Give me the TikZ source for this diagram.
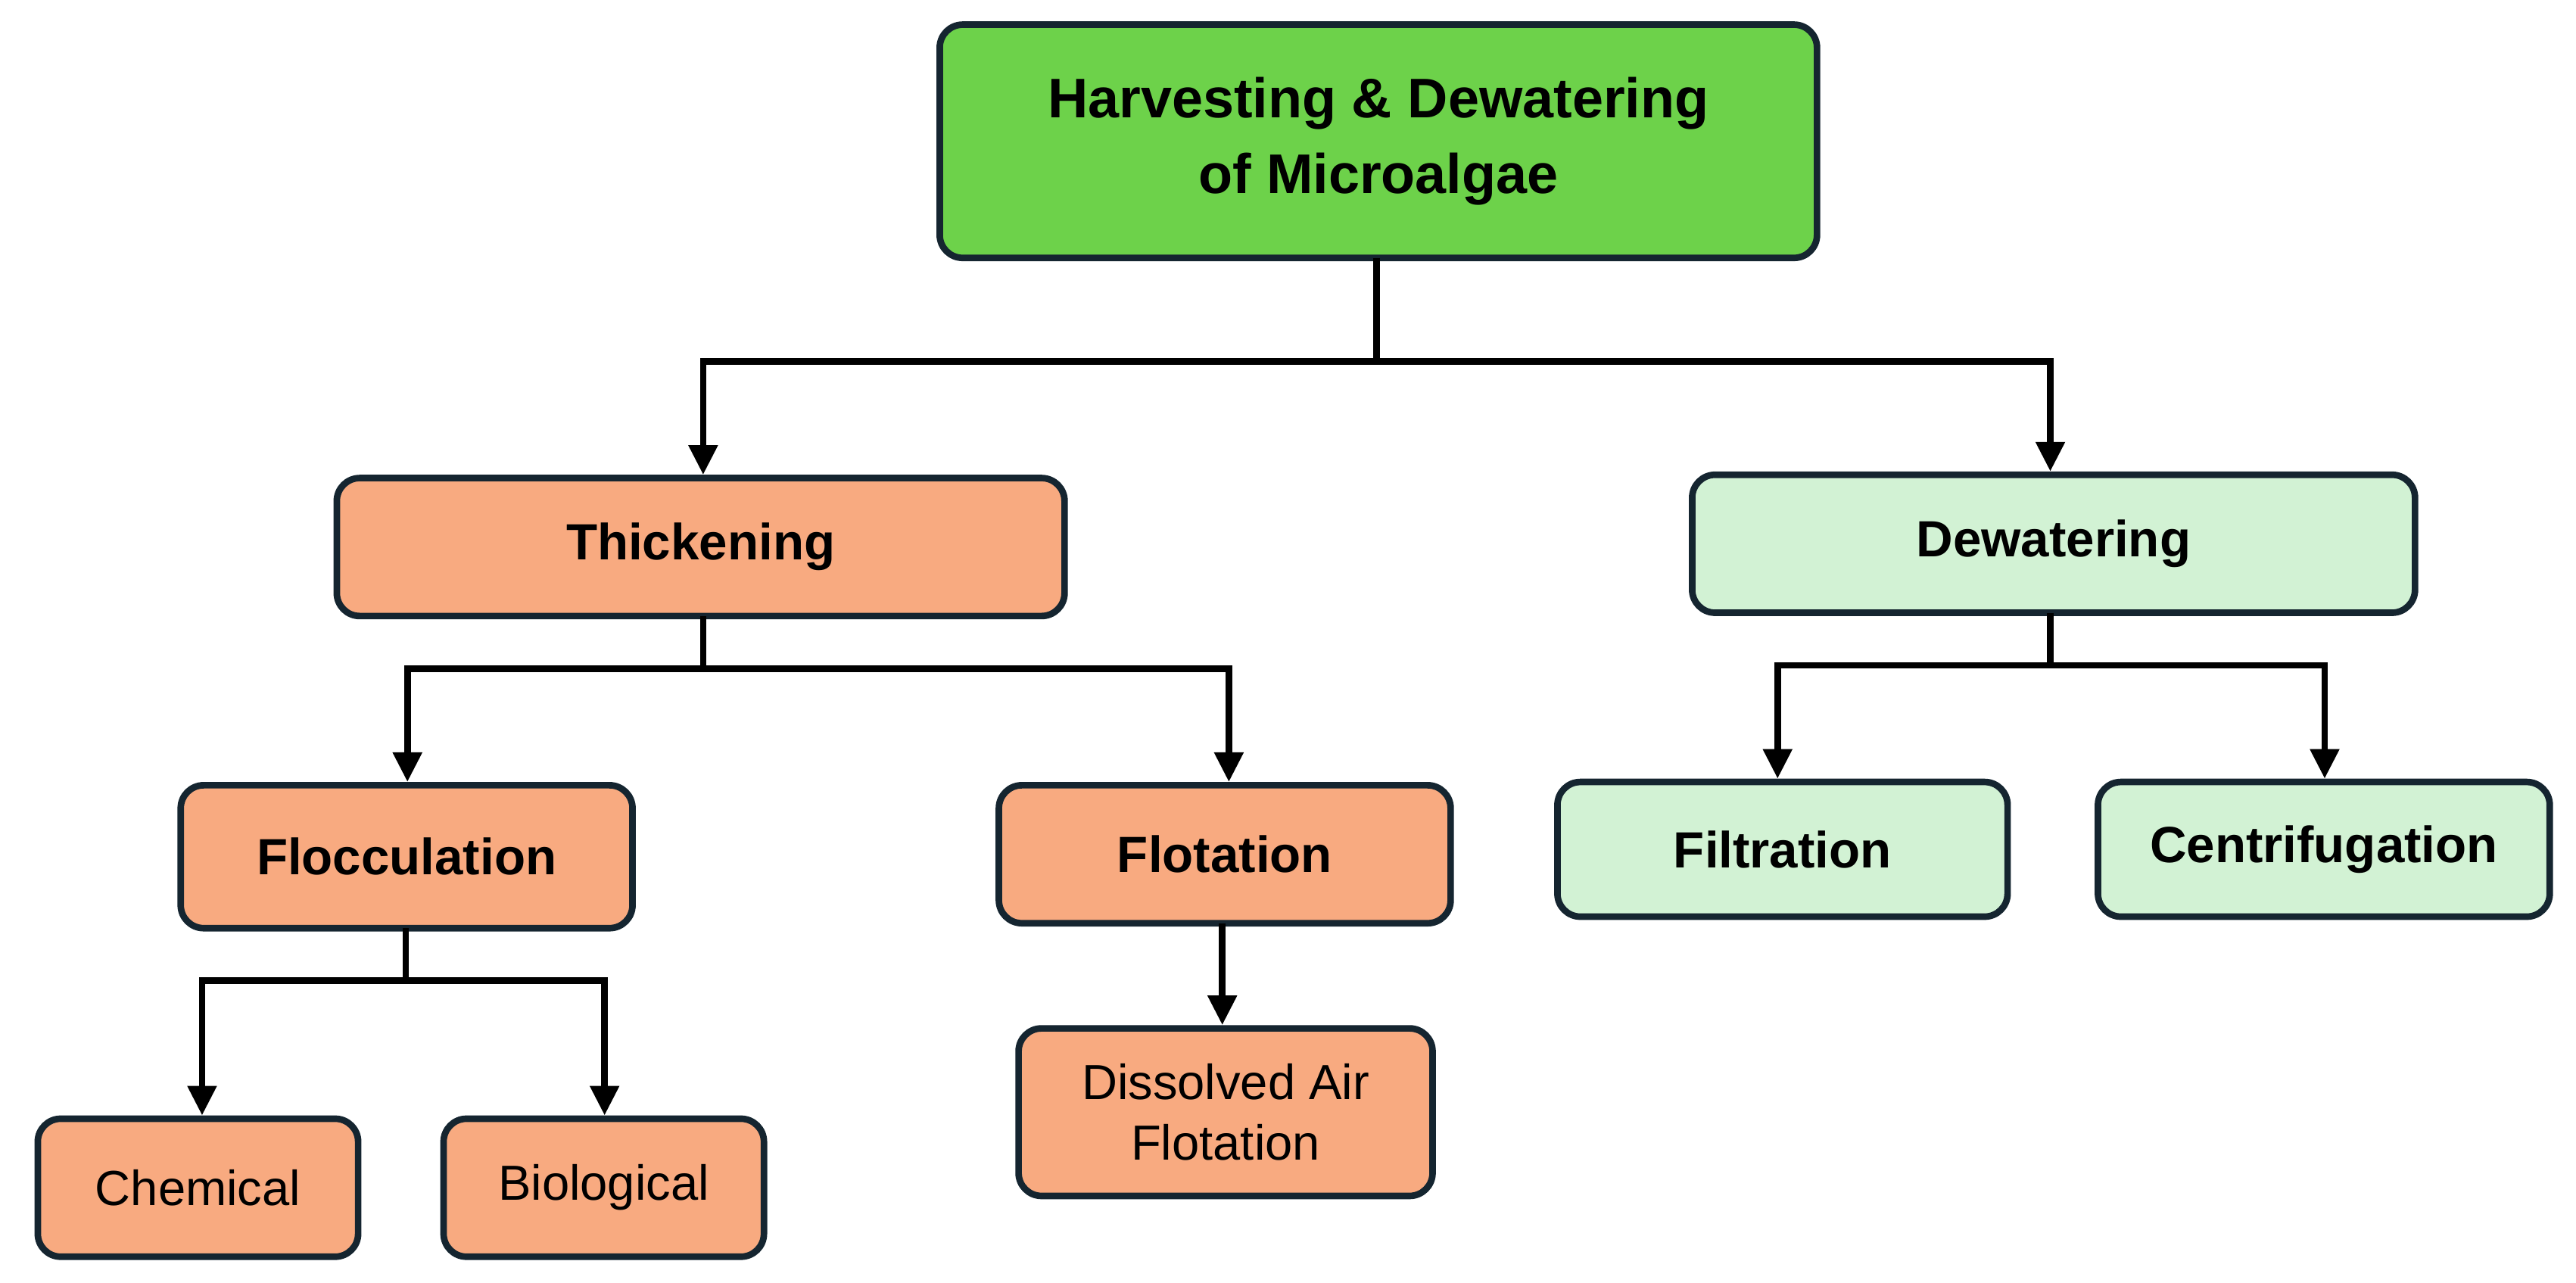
\documentclass[tikz,border=0pt]{standalone}
\usepackage{fontspec}
\setmainfont{Liberation Sans}
\usetikzlibrary{arrows.meta}
\definecolor{topg}{HTML}{6DD24A}
\definecolor{sal}{HTML}{F8AA80}
\definecolor{lg}{HTML}{D2F2D4}
\definecolor{bd}{HTML}{152530}
\begin{document}
\begin{tikzpicture}[x=1pt,y=-1pt,
 box/.style={draw=bd,line width=4pt,rounded corners=14pt,inner sep=0pt},
 lab/.style={font=\fontsize{31}{36}\selectfont\bfseries,align=center},
 nl/.style={font=\fontsize{30}{37}\selectfont,align=center},
 ln/.style={line width=4pt,black},
 ar/.style={ln,-{Triangle[length=18pt,width=17pt]}}]
\useasboundingbox (0,0) rectangle (1568,781);
\newcommand\bx[6]{\draw[box,fill=#6] (#2,#3) rectangle (#4,#5); \coordinate (#1) at ({(#2+#4)/2},{(#3+#5)/2});}
\bx{top}{572}{15}{1106}{157}{topg}
\node[lab,font=\fontsize{34}{46}\selectfont\bfseries] at (top) {Harvesting \& Dewatering\\of Microalgae};
\bx{thk}{205}{291}{648}{375}{sal} \node[lab] at (thk) {Thickening};
\bx{dew}{1030}{289}{1470}{373}{lg} \node[lab] at (dew) {Dewatering};
\bx{flo}{110}{478}{385}{565}{sal} \node[lab] at (flo) {Flocculation};
\bx{flt}{608}{478}{883}{562}{sal} \node[lab] at (flt) {Flotation};
\bx{fil}{948}{476}{1222}{558}{lg} \node[lab] at (fil) {Filtration};
\bx{cen}{1277}{476}{1552}{558}{lg} \node[lab] at (cen) {Centrifugation};
\bx{che}{23}{681}{218}{765}{sal} \node[nl] at (che) {Chemical};
\bx{bio}{270}{681}{465}{765}{sal} \node[nl] at (bio) {Biological};
\bx{daf}{620}{626}{872}{728}{sal} \node[nl] at (daf) {Dissolved Air\\Flotation};
\coordinate (j1) at (838,220);
\draw[ln] (838,157) -- (j1);
\draw[ar] (j1) -| (428,289);
\draw[ar] (j1) -| (1248,287);
\draw[ln] (428,375) -- (428,407);
\draw[ar] (428,407) -| (248,476);
\draw[ar] (428,407) -| (748,476);
\draw[ln] (1248,373) -- (1248,405);
\draw[ar] (1248,405) -| (1082,474);
\draw[ar] (1248,405) -| (1415,474);
\draw[ln] (247,565) -- (247,597);
\draw[ar] (247,597) -| (123,679);
\draw[ar] (247,597) -| (368,679);
\draw[ar] (744,562) -- (744,624);
\end{tikzpicture}
\end{document}
